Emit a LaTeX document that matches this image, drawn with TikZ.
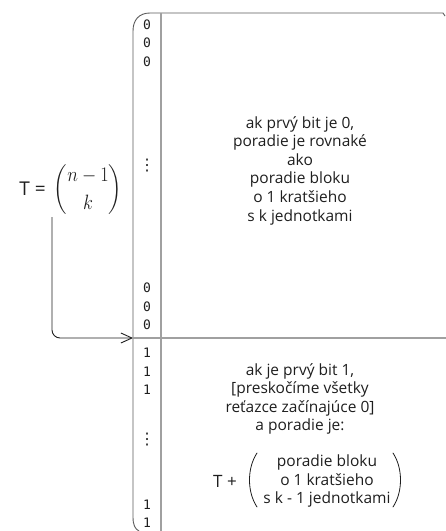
\documentclass[tikz,border=0pt]{standalone}
\usepackage{amsmath}
\usepackage{graphicx}
\usepackage{fontspec}
\setmainfont{Open Sans}
\setmonofont{DejaVu Sans Mono}
\newfontfamily\glyphfont{DejaVu Sans}
\usetikzlibrary{arrows.meta}
\definecolor{ink}{HTML}{1E1E1E}
\definecolor{frame}{HTML}{5A5A5A}
\definecolor{split}{HTML}{A0A0A0}
\begin{document}
\begin{tikzpicture}[x=1pt,y=-1pt,
  handtext/.style={font=\fontsize{15.5}{18.6}\selectfont, text=ink, align=center, inner sep=0pt},
  bits/.style={font=\fontsize{13}{18.5}\selectfont\ttfamily, text=ink, inner sep=0pt},
  vdotsym/.style={font=\fontsize{16}{18}\selectfont\glyphfont, text=ink, inner sep=0pt},
  frameline/.style={draw=frame, line width=0.9pt},
  splitline/.style={draw=split, line width=1.2pt},
  link/.style={draw=ink, line width=0.9pt, rounded corners=8pt,
    -{Straight Barb[length=11pt,width=10pt,line width=0.9pt]}},
  paren/.style={draw=ink, line width=0.8pt, line cap=round}]
\useasboundingbox (0,0) rectangle (446,531);

% outer frame of the bit column and the table
\draw[frameline] (445,16) -- (443,13) -- (150,13)
  .. controls (139,13) and (133,20) .. (133,31) -- (133,517)
  .. controls (133,525) and (135,529) .. (139,531);
% column separator and the split between the two blocks
\draw[splitline] (161,13) -- (161,531);
\coordinate (junction) at (133,338);
\coordinate (rightend) at (446,338);
\draw[splitline] (junction) -- (rightend);

% bit column
\foreach \y [count=\i] in {25,43,62,288,307,325}
  \node[bits] (zero\i) at (147,\y) {0};
\foreach \y [count=\i] in {353,372,390,505,523}
  \node[bits] (one\i) at (147,\y) {1};
\node[vdotsym] (dotsA) at (147,166) {⋮};
\node[vdotsym] (dotsB) at (147,440) {⋮};

% left formula
\node[handtext, font=\fontsize{19}{21}\selectfont, anchor=east] (teq) at (46,189) {T =};
\node[inner sep=0pt, text=ink, font=\fontsize{20}{24}\selectfont] (binom) at (88,190)
  {\scalebox{0.88}[1]{$\displaystyle\binom{n-1}{k}$}};
\coordinate (tail) at (52,217);
\draw[link] (tail) |- (junction);

% description of the upper block
\node[handtext] (upper) at (300,170.5)
  {ak prvý bit je 0,\\poradie je rovnaké\\ako\\poradie bloku\\o 1 kratšieho\\s k jednotkami};

% description of the lower block
\node[handtext] (lower) at (300,399)
  {ak je prvý bit 1,\\{[}preskočíme všetky\\reťazce začínajúce 0{]}\\a poradie je:};
\node[handtext, font=\fontsize{17}{20}\selectfont] (tplus) at (225,481) {T +};
\node[handtext] (inner) at (327,481)
  {poradie bloku\\o 1 kratšieho\\s k - 1 jednotkami};
\draw[paren] (257,453) .. controls (247,468) and (247,492) .. (257,507);
\draw[paren] (393,453) .. controls (403,468) and (403,492) .. (393,507);
\end{tikzpicture}
\end{document}
